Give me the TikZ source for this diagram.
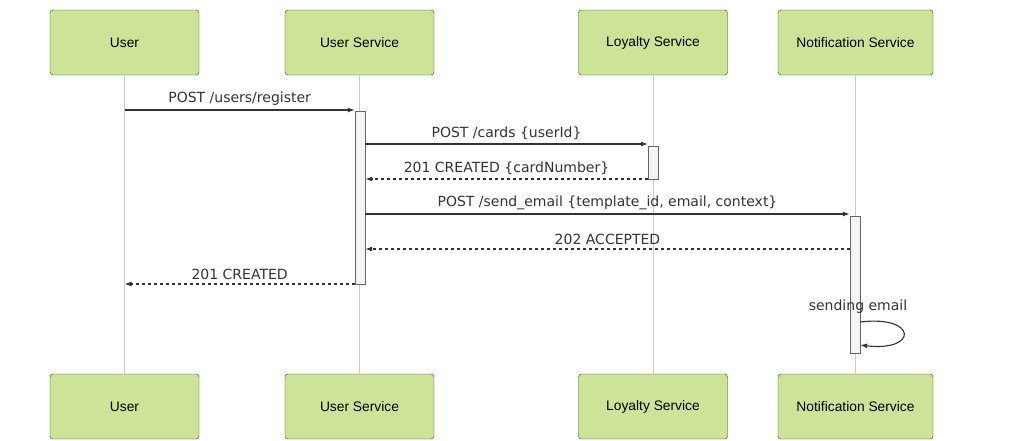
\documentclass[tikz,border=0pt]{standalone}
\usepackage{fontspec}
\setmainfont{Liberation Sans}
\newfontfamily\msgfont{DejaVu Sans}
\usetikzlibrary{arrows.meta,positioning}
\definecolor{actorfill}{HTML}{CDE498}
\definecolor{actorline}{HTML}{13540C}
\definecolor{lifegray}{HTML}{CCCCCC}
\definecolor{actfill}{HTML}{F4F4F4}
\definecolor{actline}{HTML}{666666}
\definecolor{msgline}{HTML}{333333}

\begin{document}
\begin{tikzpicture}[
  x=1pt, y=-1pt,
  actor/.style={draw=actorline, fill=actorfill, rounded corners=3pt, minimum width=149pt, minimum height=65pt, font=\fontsize{13.8}{16}\selectfont},
  lifeline/.style={draw=lifegray, line width=0.5pt},
  activation/.style={draw=actline, fill=actfill, minimum width=10pt, anchor=north, inner sep=0pt},
  msglabel/.style={font=\msgfont\fontsize{14}{16}\selectfont, text=msgline},
  msg/.style={draw=msgline, line width=1.1pt, -{Latex[length=7pt, width=5pt]}},
  reply/.style={msg, dashed, dash pattern=on 3pt off 3pt}
]
  \useasboundingbox (0,0) rectangle (1010,440);

  % actors top
  \node[actor] (user) at (124.5,42.5) {User};
  \node[actor] (usvc) at (359.5,42.5) {User Service};
  \node[actor] (lsvc) at (653,42.5) {Loyalty Service};
  \node[actor, minimum width=155pt] (nsvc) at (855.5,42.5) {Notification Service};

  % actors bottom
  \node[actor] (userb) at (124.5,406.5) {User};
  \node[actor] (usvcb) at (359.5,406.5) {User Service};
  \node[actor] (lsvcb) at (653,406.5) {Loyalty Service};
  \node[actor, minimum width=155pt] (nsvcb) at (855.5,406.5) {Notification Service};

  % lifelines
  \draw[lifeline] (user) -- (userb);
  \draw[lifeline] (usvc) -- (usvcb);
  \draw[lifeline] (lsvc) -- (lsvcb);
  \draw[lifeline] (nsvc) -- (nsvcb);

  % activations
  \node[activation, minimum height=173pt] (usact) at (360,111) {};
  \node[activation, minimum height=33pt] (lsact) at (653,146) {};
  \node[activation, minimum height=137pt] (nsact) at (855,216) {};

  % message rows
  \coordinate (m1) at (0,110);
  \coordinate (m2) at (0,144);
  \coordinate (m3) at (0,179);
  \coordinate (m4) at (0,214);
  \coordinate (m5) at (0,249);
  \coordinate (m6) at (0,284);

  \draw[msg] (user |- m1) -- node[msglabel, above=0.5pt]{POST /users/register} (usact.west |- m1);
  \draw[msg] (usact.east |- m2) -- node[msglabel, above=0.5pt]{POST /cards \{userId\}} (lsact.west |- m2);
  \draw[reply] (lsact.west |- m3) -- node[msglabel, above=0.5pt]{201 CREATED \{cardNumber\}} (usact.east |- m3);
  \draw[msg] (usact.east |- m4) -- node[msglabel, above=0.5pt]{POST /send\_email \{template\_id, email, context\}} (nsact.west |- m4);
  \draw[reply] (nsact.west |- m5) -- node[msglabel, above=0.5pt]{202 ACCEPTED} (usact.east |- m5);
  \draw[reply] (usact.west |- m6) -- node[msglabel, above=0.5pt]{201 CREATED} (user |- m6);

  % self call
  \coordinate (s1) at (0,322);
  \coordinate (s2) at (0,345);
  \node[msglabel] (selflbl) at (858,307) {sending email};
  \draw[msg] (nsact.east |- s1) .. controls (918,315) and (918,352) .. (nsact.east |- s2);
\end{tikzpicture}
\end{document}
